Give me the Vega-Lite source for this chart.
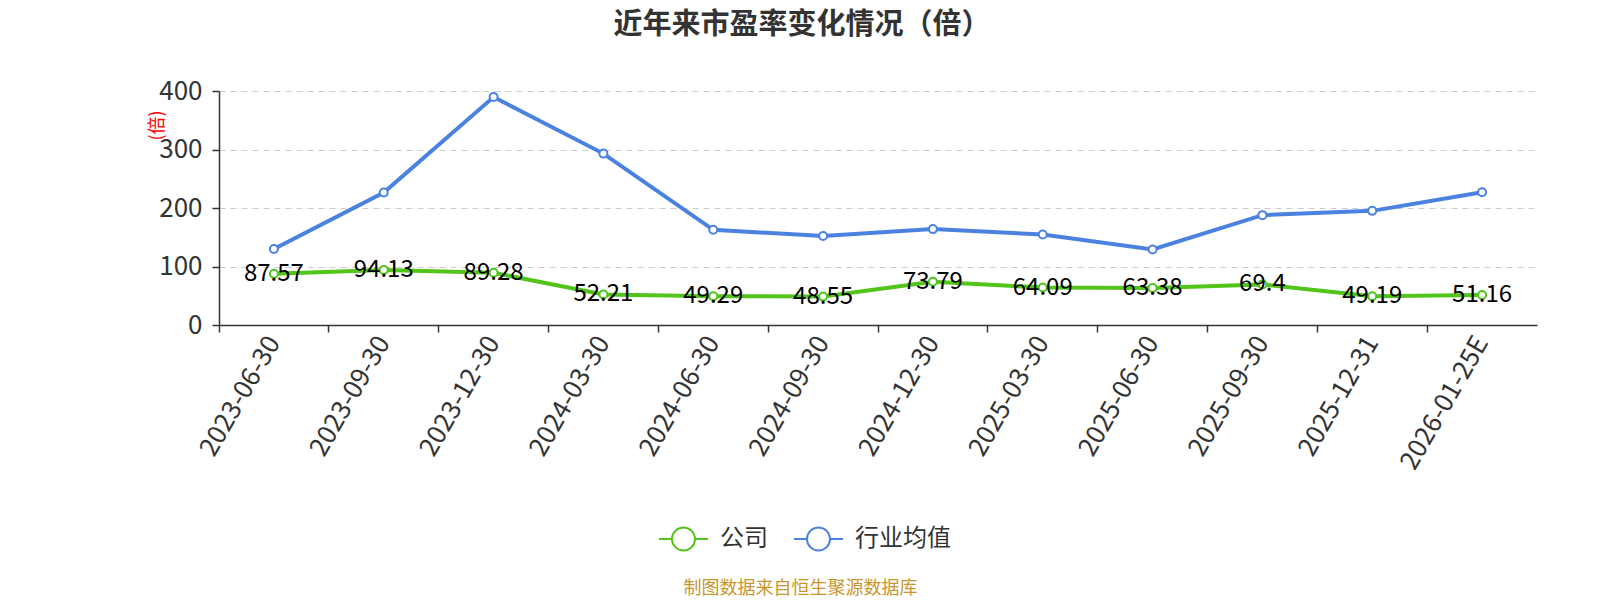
{
  "$schema": "https://vega.github.io/schema/vega-lite/v6.json",
  "autosize": {"type": "none"},
  "width": 1318,
  "height": 234,
  "padding": {"left": 219, "top": 91, "right": 63, "bottom": 275},
  "background": "white",
  "view": {"stroke": null},
  "title": {
    "text": "近年来市盈率变化情况（倍）",
    "font": "Noto Sans CJK SC",
    "fontSize": 29,
    "fontWeight": "bold",
    "color": "#333333",
    "anchor": "middle",
    "dx": -76,
    "offset": 38
  },
  "data": {
    "values": [
      {"date": "2023-06-30", "series": "公司", "pe": 87.57},
      {"date": "2023-09-30", "series": "公司", "pe": 94.13},
      {"date": "2023-12-30", "series": "公司", "pe": 89.28},
      {"date": "2024-03-30", "series": "公司", "pe": 52.21},
      {"date": "2024-06-30", "series": "公司", "pe": 49.29},
      {"date": "2024-09-30", "series": "公司", "pe": 48.55},
      {"date": "2024-12-30", "series": "公司", "pe": 73.79},
      {"date": "2025-03-30", "series": "公司", "pe": 64.09},
      {"date": "2025-06-30", "series": "公司", "pe": 63.38},
      {"date": "2025-09-30", "series": "公司", "pe": 69.4},
      {"date": "2025-12-31", "series": "公司", "pe": 49.19},
      {"date": "2026-01-25E", "series": "公司", "pe": 51.16},
      {"date": "2023-06-30", "series": "行业均值", "pe": 130},
      {"date": "2023-09-30", "series": "行业均值", "pe": 226.5},
      {"date": "2023-12-30", "series": "行业均值", "pe": 389.7},
      {"date": "2024-03-30", "series": "行业均值", "pe": 293},
      {"date": "2024-06-30", "series": "行业均值", "pe": 162.7},
      {"date": "2024-09-30", "series": "行业均值", "pe": 152},
      {"date": "2024-12-30", "series": "行业均值", "pe": 163.9},
      {"date": "2025-03-30", "series": "行业均值", "pe": 154.8},
      {"date": "2025-06-30", "series": "行业均值", "pe": 129.2},
      {"date": "2025-09-30", "series": "行业均值", "pe": 187.8},
      {"date": "2025-12-31", "series": "行业均值", "pe": 195.1},
      {"date": "2026-01-25E", "series": "行业均值", "pe": 227}
    ]
  },
  "encoding": {
    "x": {
      "field": "date",
      "type": "nominal",
      "sort": null,
      "scale": {"type": "band", "paddingInner": 0, "paddingOuter": 0},
      "title": "制图数据来自恒生聚源数据库",
      "axis": {
        "bandPosition": 0,
        "labelAngle": -60,
        "labelAlign": "right",
        "labelBaseline": "middle",
        "labelFont": "Noto Sans CJK SC",
        "labelFontSize": 26,
        "labelColor": "#333333",
        "labelPadding": 6,
        "tickSize": 7,
        "tickColor": "#333333",
        "tickWidth": 1.5,
        "domainColor": "#333333",
        "domainWidth": 1.5,
        "grid": false,
        "titleFont": "Noto Sans CJK SC",
        "titleFontSize": 18,
        "titleFontWeight": "normal",
        "titleColor": "#c8962e",
        "titleX": 581,
        "titleY": 263,
        "titleAlign": "center",
        "titleBaseline": "middle"
      }
    },
    "y": {
      "field": "pe",
      "type": "quantitative",
      "scale": {"domain": [0, 400]},
      "title": "(倍)",
      "axis": {
        "values": [0, 100, 200, 300, 400],
        "labelFont": "Noto Sans CJK SC",
        "labelFontSize": 26,
        "labelColor": "#333333",
        "labelPadding": 10,
        "tickSize": 7,
        "tickColor": "#333333",
        "tickWidth": 1.5,
        "domainColor": "#333333",
        "domainWidth": 1.5,
        "gridColor": "#cccccc",
        "gridDash": [6, 5],
        "gridWidth": 1.2,
        "titleFont": "Noto Sans CJK SC",
        "titleFontSize": 18,
        "titleFontWeight": "normal",
        "titleColor": "#ff0000",
        "titleX": -62,
        "titleY": 34,
        "titleAngle": -90,
        "titleAlign": "center",
        "titleBaseline": "middle"
      }
    },
    "color": {
      "field": "series",
      "type": "nominal",
      "scale": {"domain": ["公司", "行业均值"], "range": ["#52c41a", "#4b82e0"]},
      "legend": {
        "orient": "none",
        "direction": "horizontal",
        "legendX": 439,
        "legendY": 422,
        "padding": 0,
        "title": null,
        "symbolType": "M-1,0L-0.47,0M0.47,0L1,0M0.47,0A0.47,0.47 0 1,1 -0.47,0A0.47,0.47 0 1,1 0.47,0Z",
        "symbolSize": 2400,
        "symbolStrokeWidth": 2,
        "symbolFillColor": "white",
        "labelFont": "Noto Sans CJK SC",
        "labelFontSize": 24,
        "labelColor": "#333333",
        "labelOffset": 11,
        "columnPadding": 22
      }
    }
  },
  "layer": [
    {
      "mark": {"type": "line", "strokeWidth": 4}
    },
    {
      "mark": {"type": "point", "filled": false, "fill": "white", "size": 64, "strokeWidth": 2, "opacity": 1}
    },
    {
      "transform": [{"filter": "datum.series === '公司'"}],
      "mark": {
        "type": "text",
        "font": "Noto Sans CJK SC",
        "fontSize": 24,
        "color": "#000000",
        "baseline": "alphabetic",
        "align": "center",
        "dy": 7
      },
      "encoding": {
        "text": {"field": "pe", "type": "quantitative"},
        "color": {"value": "#000000"}
      }
    }
  ]
}
